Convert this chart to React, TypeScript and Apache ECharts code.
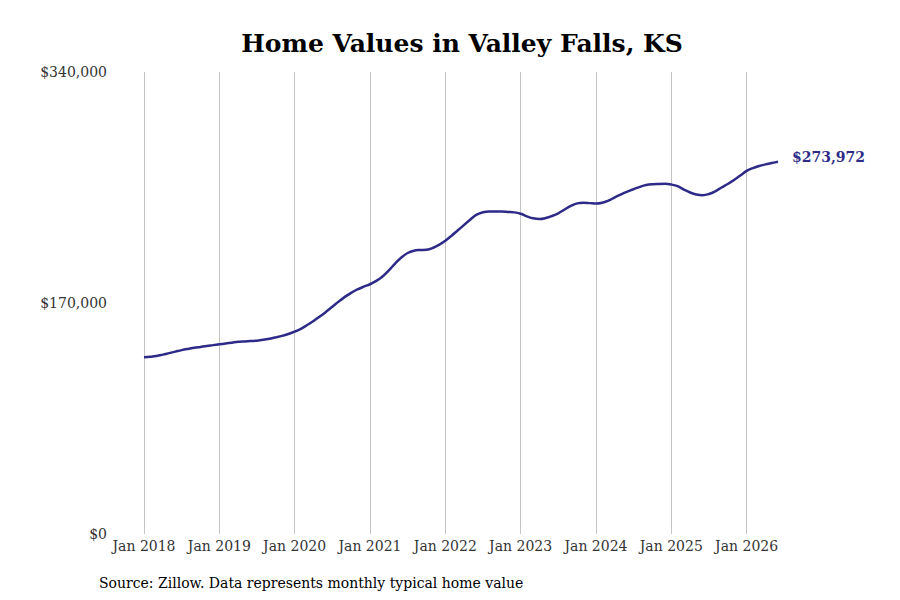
import React, { useEffect, useRef } from "react";
import * as echarts from "echarts";

// typical home value by month, Jan 2018 – Jun 2026
const values2018 = [130000, 130400, 131000, 132000, 133100, 134200, 135300, 136200, 137000, 137700, 138400, 139000];
const values2019 = [139600, 140200, 140800, 141400, 141700, 142000, 142300, 142900, 143700, 144700, 145800, 147200];
const values2020 = [148900, 151000, 153800, 156800, 160000, 163500, 167200, 171000, 174500, 177500, 180000, 182000];
const values2021 = [183800, 186300, 189500, 194000, 199000, 203500, 206800, 208500, 209000, 209200, 210500, 212800];
const values2022 = [215800, 219500, 223500, 227500, 231500, 235000, 236800, 237400, 237400, 237300, 237000, 236700];
const values2023 = [235700, 233800, 232300, 231800, 232500, 234000, 236000, 238800, 241500, 243300, 243800, 243500];
const values2024 = [243200, 243800, 245300, 247800, 250000, 252000, 253800, 255500, 256800, 257400, 257600, 257700];
const values2025 = [257200, 256000, 253500, 251300, 249800, 249300, 250200, 252200, 255000, 257600, 260500, 263800];
const values2026 = [267200, 269300, 270800, 272000, 273000, 273972];

const years = [2018, 2019, 2020, 2021, 2022, 2023, 2024, 2025, 2026];
const monthNames = ["Jan", "Feb", "Mar", "Apr", "May", "Jun", "Jul", "Aug", "Sep", "Oct", "Nov", "Dec"];
const yTicks = [0, 170000, 340000];

const values = [
  ...values2018, ...values2019, ...values2020, ...values2021, ...values2022,
  ...values2023, ...values2024, ...values2025, ...values2026,
];
const months = years.flatMap((y) => monthNames.map((m) => `${m} ${y}`)).slice(0, values.length);

const FONT = "DejaVu Serif";
const LINE = "#2e2b88";

const money = (v: number) => "$" + v.toLocaleString("en-US");

const App: React.FC = () => {
  const chartRef = useRef<HTMLDivElement>(null);

  useEffect(() => {
    if (!chartRef.current) return;
    const chart = echarts.init(chartRef.current, null, { renderer: "svg" });

    // the div sits at (8, 8) because of the body margin
    const option: echarts.EChartsOption = {
      animation: false,
      backgroundColor: "#ffffff",
      textStyle: { fontFamily: FONT },
      title: {
        text: "Home Values in Valley Falls, KS",
        left: 449,
        top: 18,
        textAlign: "center",
        textStyle: { fontFamily: FONT, fontSize: 25, fontWeight: "bold", color: "#000" },
      },
      graphic: [
        {
          type: "text",
          left: 91,
          top: 568,
          style: {
            text: "Source: Zillow. Data represents monthly typical home value",
            fontFamily: FONT,
            fontSize: 14,
            fill: "#000",
          },
        },
      ],
      grid: { left: 136, right: 114, top: 64, bottom: 66 },
      xAxis: {
        type: "category",
        data: months,
        boundaryGap: false,
        axisLine: { show: false },
        axisTick: { show: false },
        axisLabel: {
          interval: (i: number) => i % 12 === 0,
          color: "#333",
          fontFamily: FONT,
          fontSize: 14,
          margin: 5,
        },
        splitLine: {
          show: true,
          interval: (i: number) => i % 12 === 0,
          lineStyle: { color: "#c4c4c4", width: 1 },
        },
      },
      yAxis: {
        type: "value",
        min: yTicks[0],
        max: yTicks[yTicks.length - 1],
        interval: yTicks[1] - yTicks[0],
        axisLine: { show: false },
        axisTick: { show: false },
        splitLine: { show: false },
        axisLabel: {
          color: "#333",
          fontFamily: FONT,
          fontSize: 14,
          margin: 37,
          formatter: (v: number) => money(v),
        },
      },
      series: [
        {
          type: "line",
          data: values,
          smooth: 0.4,
          symbol: "none",
          lineStyle: { color: LINE, width: 2.5 },
          endLabel: {
            show: true,
            formatter: (p: any) => money(p.value),
            color: LINE,
            fontFamily: FONT,
            fontSize: 14,
            fontWeight: "bold",
            distance: 14,
            offset: [0, -5],
          },
        },
      ],
    };

    chart.setOption(option);
    return () => chart.dispose();
  }, []);

  return <div ref={chartRef} style={{ width: 884, height: 592 }} />;
};

export default App;
